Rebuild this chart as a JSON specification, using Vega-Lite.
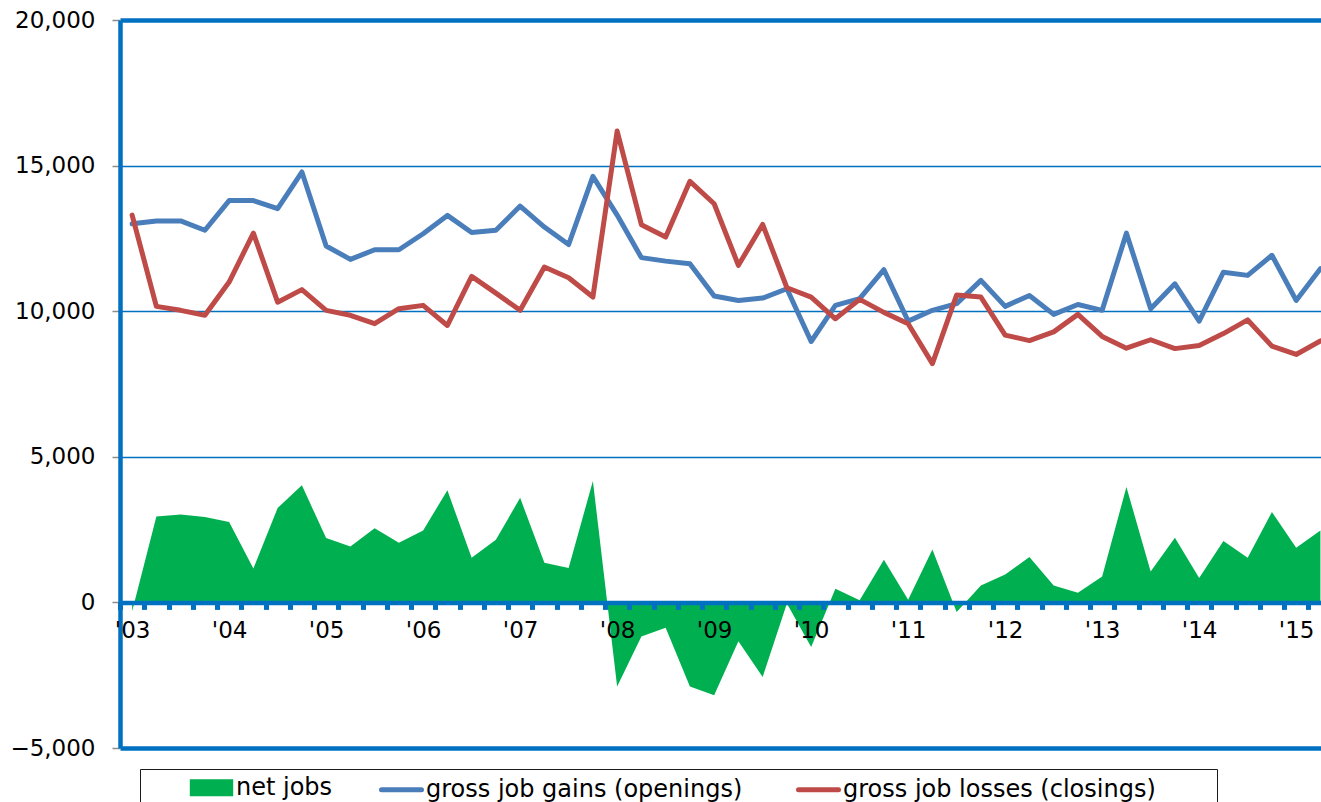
{
  "$schema": "https://vega.github.io/schema/vega-lite/v6.json",
  "width": 1201,
  "height": 728,
  "autosize": {"type": "none"},
  "padding": {"left": 120, "top": 20, "right": 0, "bottom": 54},
  "background": "white",
  "config": {"view": {"stroke": null}, "font": "DejaVu Sans"},
  "data": {"values": [
    {"t": 2003.00, "net": -300, "gains": 13000, "losses": 13300},
    {"t": 2003.25, "net": 2950, "gains": 13100, "losses": 10165},
    {"t": 2003.50, "net": 3020, "gains": 13100, "losses": 10030},
    {"t": 2003.75, "net": 2930, "gains": 12780, "losses": 9860},
    {"t": 2004.00, "net": 2760, "gains": 13800, "losses": 11000},
    {"t": 2004.25, "net": 1160, "gains": 13800, "losses": 12680},
    {"t": 2004.50, "net": 3240, "gains": 13520, "losses": 10310},
    {"t": 2004.75, "net": 4020, "gains": 14780, "losses": 10740},
    {"t": 2005.00, "net": 2210, "gains": 12240, "losses": 10030},
    {"t": 2005.25, "net": 1920, "gains": 11780, "losses": 9860},
    {"t": 2005.50, "net": 2550, "gains": 12110, "losses": 9570},
    {"t": 2005.75, "net": 2050, "gains": 12110, "losses": 10085},
    {"t": 2006.00, "net": 2470, "gains": 12660, "losses": 10200},
    {"t": 2006.25, "net": 3850, "gains": 13290, "losses": 9510},
    {"t": 2006.50, "net": 1530, "gains": 12700, "losses": 11195},
    {"t": 2006.75, "net": 2150, "gains": 12780, "losses": 10620},
    {"t": 2007.00, "net": 3590, "gains": 13610, "losses": 10030},
    {"t": 2007.25, "net": 1360, "gains": 12890, "losses": 11515},
    {"t": 2007.50, "net": 1180, "gains": 12290, "losses": 11150},
    {"t": 2007.75, "net": 4170, "gains": 14630, "losses": 10485},
    {"t": 2008.00, "net": -2885, "gains": 13300, "losses": 16185},
    {"t": 2008.25, "net": -1170, "gains": 11840, "losses": 12970},
    {"t": 2008.50, "net": -870, "gains": 11720, "losses": 12545},
    {"t": 2008.75, "net": -2885, "gains": 11630, "losses": 14460},
    {"t": 2009.00, "net": -3190, "gains": 10520, "losses": 13690},
    {"t": 2009.25, "net": -1330, "gains": 10370, "losses": 11575},
    {"t": 2009.50, "net": -2565, "gains": 10450, "losses": 12980},
    {"t": 2009.75, "net": -40, "gains": 10770, "losses": 10805},
    {"t": 2010.00, "net": -1535, "gains": 8960, "losses": 10485},
    {"t": 2010.25, "net": 470, "gains": 10200, "losses": 9740},
    {"t": 2010.50, "net": 70, "gains": 10430, "losses": 10405},
    {"t": 2010.75, "net": 1466, "gains": 11425, "losses": 9960},
    {"t": 2011.00, "net": 92, "gains": 9660, "losses": 9570},
    {"t": 2011.25, "net": 1820, "gains": 10030, "losses": 8200},
    {"t": 2011.50, "net": -333, "gains": 10260, "losses": 10560},
    {"t": 2011.75, "net": 584, "gains": 11060, "losses": 10485},
    {"t": 2012.00, "net": 962, "gains": 10165, "losses": 9180},
    {"t": 2012.25, "net": 1557, "gains": 10540, "losses": 8990},
    {"t": 2012.50, "net": 584, "gains": 9890, "losses": 9290},
    {"t": 2012.75, "net": 332, "gains": 10230, "losses": 9890},
    {"t": 2013.00, "net": 893, "gains": 10030, "losses": 9135},
    {"t": 2013.25, "net": 3961, "gains": 12680, "losses": 8730},
    {"t": 2013.50, "net": 1065, "gains": 10085, "losses": 9020},
    {"t": 2013.75, "net": 2221, "gains": 10940, "losses": 8715},
    {"t": 2014.00, "net": 836, "gains": 9660, "losses": 8825},
    {"t": 2014.25, "net": 2106, "gains": 11340, "losses": 9230},
    {"t": 2014.50, "net": 1534, "gains": 11230, "losses": 9700},
    {"t": 2014.75, "net": 3102, "gains": 11920, "losses": 8800},
    {"t": 2015.00, "net": 1878, "gains": 10370, "losses": 8515},
    {"t": 2015.25, "net": 2473, "gains": 11460, "losses": 8980}
  ]},
  "transform": [{"fold": ["net", "gains", "losses"], "as": ["series", "value"]}],
  "encoding": {
    "x": {
      "field": "t", "type": "quantitative",
      "scale": {"domain": [2002.875, 2015.256], "nice": false, "zero": false},
      "axis": {
        "orient": "bottom", "offset": -145.6, "title": null, "grid": false, "zindex": 1,
        "values": [2002.875, 2003.125, 2003.375, 2003.625, 2003.875, 2004.125, 2004.375, 2004.625, 2004.875, 2005.125, 2005.375, 2005.625, 2005.875, 2006.125, 2006.375, 2006.625, 2006.875, 2007.125, 2007.375, 2007.625, 2007.875, 2008.125, 2008.375, 2008.625, 2008.875, 2009.125, 2009.375, 2009.625, 2009.875, 2010.125, 2010.375, 2010.625, 2010.875, 2011.125, 2011.375, 2011.625, 2011.875, 2012.125, 2012.375, 2012.625, 2012.875, 2013.125, 2013.375, 2013.625, 2013.875, 2014.125, 2014.375, 2014.625, 2014.875, 2015.125],
        "labelExpr": "(datum.value % 1) > 0.8 ? \"'\" + substring(toString(floor(datum.value) + 1), 2, 4) : ''",
        "labelOffset": 12.1, "labelFlush": false, "labelOverlap": false,
        "labelFontSize": 23, "labelColor": "#000000", "labelPadding": 10,
        "domainColor": "#0070C0", "domainWidth": 4.5,
        "tickColor": "#0070C0", "tickWidth": 5, "tickSize": 7
      }
    },
    "y": {
      "field": "value", "type": "quantitative", "stack": null,
      "scale": {"domain": [-5000, 20000], "nice": false, "zero": false},
      "axis": {
        "title": null, "values": [-5000, 0, 5000, 10000, 15000, 20000], "format": ",.0f",
        "domainColor": "#0070C0", "domainWidth": 4.5,
        "tickColor": "#8C8C8C", "tickSize": 8, "tickWidth": 1.5,
        "labelFontSize": 23, "labelColor": "#000000", "labelPadding": 17,
        "grid": true, "gridColor": "#0070C0",
        "gridWidth": {"condition": {"test": "datum.value === 20000 || datum.value === -5000", "value": 4.5}, "value": 1.3}
      }
    },
    "color": {
      "field": "series", "type": "nominal",
      "scale": {"domain": ["net", "gains", "losses"], "range": ["#00B050", "#4A7EBB", "#BE4B48"]},
      "legend": {
        "orient": "none", "legendX": 20, "legendY": 749, "direction": "horizontal",
        "title": "\u00a0", "titleOrient": "left", "titlePadding": 53, "titleFontSize": 24,
        "padding": 0, "strokeColor": "#1A1A1A", "fillColor": "#FFFFFF",
        "labelFontSize": 24, "labelColor": "#000000", "labelOffset": 6, "columnPadding": 38, "labelLimit": 1000,
        "symbolSize": 1024, "symbolStrokeWidth": 5, "symbolType": "stroke",
        "labelExpr": "datum.value === 'net' ? 'net jobs' : (datum.value === 'gains' ? 'gross job gains (openings)\u00a0\u200b' : 'gross job losses (closings)\u00a0\u00a0\u00a0\u00a0\u00a0\u00a0\u00a0\u00a0\u200b')",
        "encode": {
          "symbols": {
            "update": {
              "shape": {"signal": "datum.value === 'net' ? 'M-1.2,-0.375H1.2V0.375H-1.2Z' : 'M-1.25,0H1.25'"},
              "fill": {"signal": "datum.value === 'net' ? '#00B050' : 'transparent'"},
              "stroke": {"signal": "datum.value === 'net' ? 'transparent' : (datum.value === 'gains' ? '#4A7EBB' : '#BE4B48')"},
              "strokeWidth": {"value": 5},
              "strokeCap": {"value": "round"},
              "opacity": {"value": 1}
            }
          }
        }
      }
    }
  },
  "layer": [
    {"transform": [{"filter": "datum.series === 'net'"}], "mark": {"type": "area", "opacity": 1}},
    {"transform": [{"filter": "datum.series === 'gains'"}], "mark": {"type": "line", "strokeWidth": 5, "strokeJoin": "round", "strokeCap": "round"}},
    {"transform": [{"filter": "datum.series === 'losses'"}], "mark": {"type": "line", "strokeWidth": 5, "strokeJoin": "round", "strokeCap": "round"}}
  ]
}
